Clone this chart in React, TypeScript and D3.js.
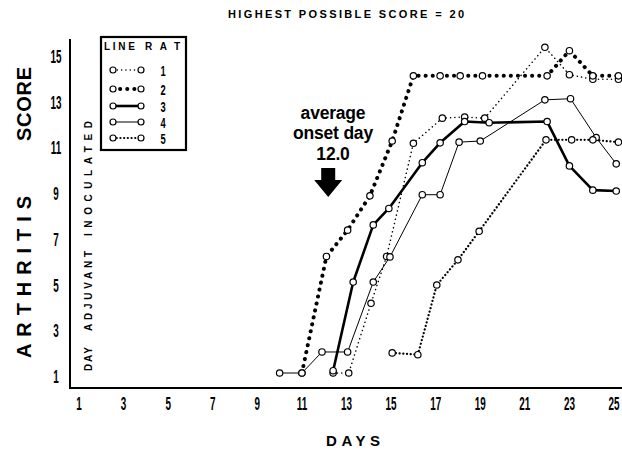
import React from 'react';
import * as d3 from 'd3';

// ---- data ----
const X_TICKS = [1, 3, 5, 7, 9, 11, 13, 15, 17, 19, 21, 23, 25];
const Y_TICKS = [1, 3, 5, 7, 9, 11, 13, 15];

const rat1Days = [12.4, 13.1, 14.1, 14.8, 16, 17.3, 18.3, 19.2, 21.9, 23, 24.05, 25.2];
const rat1Scores = [1, 1, 4.05, 6.1, 11.05, 12.15, 12.2, 12.15, 15.25, 14.05, 13.85, 13.85];

const rat2Days = [11, 12.1, 13.05, 14.05, 15.05, 16, 17.2, 18.1, 19.1, 22, 23, 24.05, 25.2];
const rat2Scores = [1, 6.1, 7.25, 8.75, 11.15, 14, 14, 14, 14, 14, 15.1, 14, 14];

const rat3Days = [12.4, 13.3, 14.2, 14.9, 16.4, 17.2, 18.3, 19.4, 22, 23, 24.05, 25.1];
const rat3Scores = [1.1, 4.98, 7.48, 8.2, 10.2, 11.07, 12, 11.95, 12, 10.06, 9.0, 8.96];

const rat4Days = [10, 11, 11.9, 13.05, 14.2, 14.95, 16.4, 17.2, 18.05, 19, 21.9, 23.05, 24.2, 25.1];
const rat4Scores = [1, 1, 1.92, 1.92, 4.98, 6.08, 8.8, 8.8, 11.1, 11.15, 12.95, 13, 11.3, 10.15];

const rat5Days = [15.05, 16.2, 17.05, 18, 18.95, 21.95, 23.1, 24.05, 25.2];
const rat5Scores = [1.88, 1.8, 4.85, 5.95, 7.2, 11.2, 11.2, 11.2, 11.1];

const RAT_LABELS = ['1', '2', '3', '4', '5'];
const TITLE = 'HIGHEST POSSIBLE SCORE = 20';
const X_TITLE = 'DAYS';
const Y_TITLE_A = 'ARTHRITIS';
const Y_TITLE_B = 'SCORE';
const DAY_NOTE = ['DAY', 'ADJUVANT', 'INOCULATED'];
const ONSET_LINES = ['average', 'onset day', '12.0'];
const ONSET_DAY = 12.0;

// ---- styles ----
const FONT = "'Liberation Sans', Arial, sans-serif";
const lineStyles = [
  { w: 1.5, dash: '0.1,4.2', cap: 'round' },
  { w: 4, dash: '0.1,7', cap: 'round' },
  { w: 2.6, dash: null, cap: 'butt' },
  { w: 1, dash: null, cap: 'butt' },
  { w: 2.2, dash: '0.1,3.6', cap: 'round' },
];

export default function App() {
  const W = 622, H = 453;
  const x = d3.scaleLinear().domain([1, 25]).range([79, 614]);
  const y = d3.scaleLinear().domain([1, 15]).range([373, 53]);

  const series = [
    d3.zip(rat1Days, rat1Scores),
    d3.zip(rat2Days, rat2Scores),
    d3.zip(rat3Days, rat3Scores),
    d3.zip(rat4Days, rat4Scores),
    d3.zip(rat5Days, rat5Scores),
  ] as [number, number][][];

  const line = d3.line<[number, number]>().x(d => x(d[0])).y(d => y(d[1]));

  const condensed = (key: string, tx: number, ty: number, t: string, fs = 18, sx = 0.55) => (
    <text key={key} transform={`translate(${tx},${ty}) scale(${sx},1)`} textAnchor="middle"
      fontSize={fs} fontWeight="bold" fontFamily={FONT} fill="#000">{t}</text>
  );

  const legendRowsY = [70, 89, 106, 122, 138];
  const ax = x(ONSET_DAY) + 4; // arrow center

  return (
    <svg width={W} height={H} style={{ position: 'absolute', left: 0, top: 0, background: '#fff' }}>
      <rect width={W} height={H} fill="#fff" />
      {/* title */}
      <text x={228} y={18} fontSize={11} fontWeight="bold" fontFamily={FONT}
        textLength={236} lengthAdjust="spacing">{TITLE}</text>

      {/* axes */}
      <line x1={70} y1={39} x2={70} y2={389} stroke="#000" strokeWidth={2} />
      <line x1={69} y1={388} x2={622} y2={388} stroke="#000" strokeWidth={2} />

      {/* y tick labels */}
      {Y_TICKS.map(t => condensed('y' + t, 56, y(t) + 10, String(t)))}
      {/* x tick labels */}
      {X_TICKS.map(t => condensed('x' + t, x(t), 410, String(t)))}

      {/* axis titles */}
      <text x={326} y={446} fontSize={15} fontWeight="bold" fontFamily={FONT}
        textLength={54} lengthAdjust="spacing">{X_TITLE}</text>
      <g transform="translate(31,0) rotate(-90)">
        <text x={-358} y={0} fontSize={20} fontWeight="bold" fontFamily={FONT}
          textLength={162} lengthAdjust="spacing">{Y_TITLE_A}</text>
        <text x={-141} y={0} fontSize={20} fontWeight="bold" fontFamily={FONT}
          textLength={74} lengthAdjust="spacing">{Y_TITLE_B}</text>
      </g>
      <g transform="translate(92,0) rotate(-90)">
        <text x={-371} y={0} fontSize={10} fontWeight="bold" fontFamily={FONT}
          textLength={24} lengthAdjust="spacing">{DAY_NOTE[0]}</text>
        <text x={-331} y={0} fontSize={10} fontWeight="bold" fontFamily={FONT}
          textLength={80} lengthAdjust="spacing">{DAY_NOTE[1]}</text>
        <text x={-236} y={0} fontSize={10} fontWeight="bold" fontFamily={FONT}
          textLength={115} lengthAdjust="spacing">{DAY_NOTE[2]}</text>
      </g>

      {/* legend */}
      <rect x={101} y={37} width={85} height={113} fill="none" stroke="#000" strokeWidth={2.2} />
      <text x={104} y={50} fontSize={10} fontWeight="bold" fontFamily={FONT} textLength={31} lengthAdjust="spacing">LINE</text>
      <text x={145} y={50} fontSize={10} fontWeight="bold" fontFamily={FONT} textLength={35} lengthAdjust="spacing">RAT</text>
      {RAT_LABELS.map((lab, i) => {
        const st = lineStyles[i];
        const ly = legendRowsY[i];
        return (
          <g key={'lg' + i}>
            <line x1={113} y1={ly} x2={141} y2={ly} stroke="#000" strokeWidth={st.w}
              strokeDasharray={st.dash ?? undefined} strokeLinecap={st.cap as any} />
            <circle cx={113} cy={ly} r={3} fill="#fff" stroke="#000" strokeWidth={1.2} />
            <circle cx={141} cy={ly} r={3} fill="#fff" stroke="#000" strokeWidth={1.2} />
            {condensed('ln' + i, 163, ly + 5.5, lab, 15, 0.62)}
          </g>
        );
      })}

      {/* onset annotation */}
      {ONSET_LINES.map((t, i) => (
        <text key={'on' + i} x={333} y={[119, 139, 160][i]} textAnchor="middle" fontSize={17.5}
          fontWeight="bold" fontFamily={FONT} letterSpacing={-0.2}>{t}</text>
      ))}
      <path d={`M${ax - 7},168 L${ax + 7},168 L${ax + 7},180 L${ax + 14},180 L${ax},197 L${ax - 14},180 L${ax - 7},180 Z`} fill="#000" />

      {/* series */}
      {series.map((s, i) => {
        const st = lineStyles[i];
        return (
          <path key={'s' + i} d={line(s) ?? ''} fill="none" stroke="#000" strokeWidth={st.w}
            strokeDasharray={st.dash ?? undefined} strokeLinecap={st.cap as any} strokeLinejoin="round" />
        );
      })}
      {series.map((s, i) => s.map((d, j) => (
        <circle key={`c${i}-${j}`} cx={x(d[0])} cy={y(d[1])} r={3.2} fill="#fff" stroke="#000" strokeWidth={1.2} />
      )))}
    </svg>
  );
}
